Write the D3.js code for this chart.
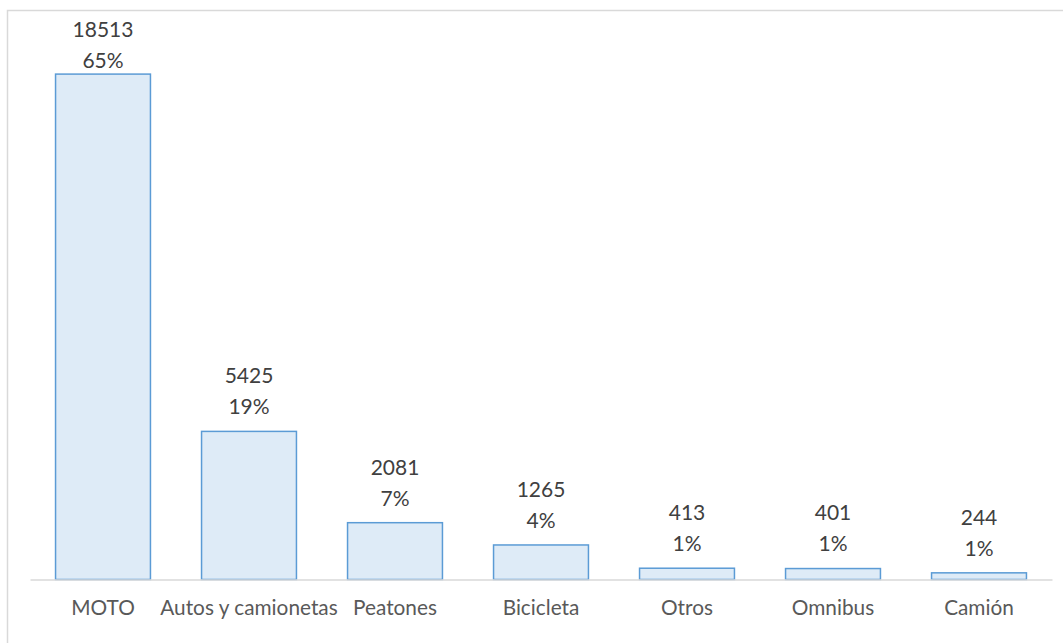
<!DOCTYPE html>
<html>
<head>
<meta charset="utf-8">
<script src="https://cdn.jsdelivr.net/npm/d3@7"></script>
<style>
  body { margin: 0; background: #fff; }
  svg { display: block; font-family: Lato, "Open Sans", sans-serif; }
</style>
</head>
<body>
<div id="chart"></div>
<script>
// data
var categories = ["MOTO", "Autos y camionetas", "Peatones", "Bicicleta", "Otros", "Omnibus", "Camión"];
var counts = [18513, 5425, 2081, 1265, 413, 401, 244];
var shares = ["65%", "19%", "7%", "4%", "1%", "1%", "1%"];

(function () {
  "use strict";

  var width = 1063, height = 643;
  var plot = {left: 30, right: 1052, top: 33.5, bottom: 579.5};
  var labelTop = 30; // value labels are pushed down so they stay inside the chart

  var svg = d3.select("#chart").append("svg")
    .attr("width", width)
    .attr("height", height);

  // chart frame (runs off the right / bottom edge like the original)
  svg.append("rect")
    .attr("x", 7.5).attr("y", 10.5)
    .attr("width", 1070).attr("height", 650)
    .attr("fill", "none")
    .attr("stroke", "#d9d9d9")
    .attr("stroke-width", 1.5);

  var x = d3.scaleBand()
    .domain(categories)
    .range([plot.left, plot.right])
    .paddingInner(0.35)
    .paddingOuter(0.175);

  var y = d3.scaleLinear()
    .domain([0, 20000])
    .range([plot.bottom, plot.top]);

  var rows = categories.map(function (c, i) {
    return {name: c, value: counts[i], pct: shares[i]};
  });

  svg.selectAll("rect.bar")
    .data(rows)
    .enter().append("rect")
    .attr("class", "bar")
    .attr("x", function (d) { return x(d.name); })
    .attr("y", function (d) { return y(d.value); })
    .attr("width", x.bandwidth())
    .attr("height", function (d) { return plot.bottom - y(d.value); })
    .attr("fill", "#deebf7")
    .attr("stroke", "#5b9bd5")
    .attr("stroke-width", 1.5);

  // category axis
  var xAxis = svg.append("g")
    .attr("transform", "translate(0," + plot.bottom + ")")
    .call(d3.axisBottom(x).tickSize(0).tickPadding(21));
  xAxis.select(".domain").attr("stroke", "#d9d9d9").attr("stroke-width", 1.5);
  xAxis.selectAll("text")
    .attr("fill", "#595959")
    .style("font-size", "20.8px")
    .style("font-family", "Lato, sans-serif");

  // value + share labels
  var lab = svg.selectAll("g.lab")
    .data(rows)
    .enter().append("g")
    .attr("class", "lab")
    .attr("transform", function (d) {
      var top = Math.max(y(d.value) - 55.5, labelTop);
      return "translate(" + (x(d.name) + x.bandwidth() / 2) + "," + top + ")";
    });
  lab.append("text")
    .attr("y", 0)
    .attr("dy", "0.35em")
    .attr("text-anchor", "middle")
    .attr("fill", "#404040")
    .style("font-size", "21px")
    .text(function (d) { return d.value; });
  lab.append("text")
    .attr("y", 31)
    .attr("dy", "0.35em")
    .attr("text-anchor", "middle")
    .attr("fill", "#404040")
    .style("font-size", "21px")
    .text(function (d) { return d.pct; });
})();
</script>
</body>
</html>
